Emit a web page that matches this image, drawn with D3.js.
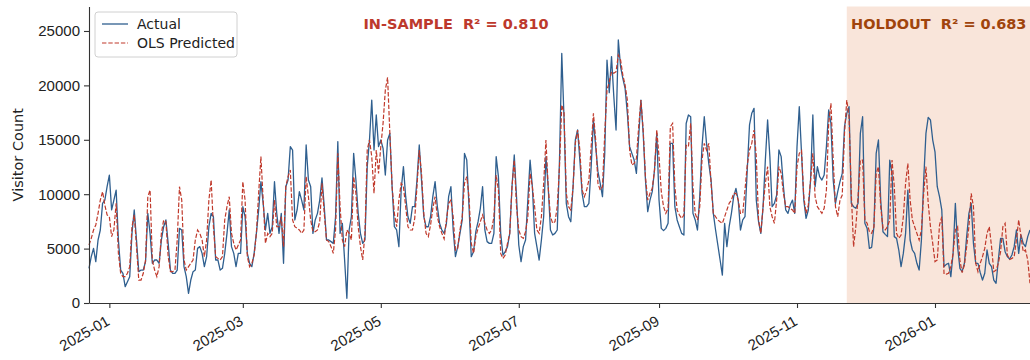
<!DOCTYPE html>
<html>
<head>
<meta charset="utf-8">
<script src="https://cdn.jsdelivr.net/npm/d3@7"></script>
<style>
  body { margin: 0; background: #fff; }
  svg { display: block; font-family: "DejaVu Sans", sans-serif; }
</style>
</head>
<body>
<div id="chart"></div>
<script>
// daily series, first value is startDate, one value per day
const startDate = '2024-12-23';
const holdoutStart = '2025-11-23';

const actual = [
  3190, 4260, 5020, 3800, 5790, 6710, 9160,
  9460, 10690, 11760, 8550, 9460, 10380, 5790,
  3030, 2730, 1500, 1960, 2420, 6400, 8550,
  5790, 2880, 3030, 3030, 3800, 8240, 6400,
  3650, 3950, 3950, 3650, 5790, 7010, 7630,
  5480, 3030, 2730, 2730, 3030, 6860, 6710,
  3340, 2420, 890, 2110, 2880, 3030, 5020,
  5180, 4560, 3340, 4260, 7010, 8240, 7930,
  3950, 3950, 3030, 3190, 4560, 6400, 8550,
  5180, 4560, 3340, 4560, 4560, 8850, 7930,
  4560, 3650, 3340, 4560, 6400, 8550, 11150,
  9160, 6710, 8240, 6400, 7010, 11150, 8240,
  6400, 8240, 3650, 10690, 11300, 14370, 14060,
  7630, 8550, 10230, 9460, 8550, 14520, 11300,
  10690, 6400, 7630, 8240, 9460, 11500, 8850,
  5790, 5790, 5640, 5480, 7930, 14830, 6400,
  7320, 3950, 430, 6710, 7930, 13750, 11300,
  8240, 6400, 5480, 5790, 12530, 14980, 18650,
  14060, 17280, 14370, 14980, 14210, 11760, 14980,
  15590, 10690, 7010, 6710, 5180, 10380, 12530,
  9770, 7930, 7320, 8850, 8850, 11300, 14520,
  11300, 7930, 7010, 7010, 7930, 9770, 11150,
  8850, 7320, 6710, 6400, 7300, 9800, 10690,
  6710, 4260, 5180, 6400, 7630, 13750, 13140,
  8850, 4260, 4720, 6550, 7470, 8700, 10690,
  6710, 5640, 5480, 5480, 6400, 13450, 11610,
  6400, 4410, 4720, 5180, 6400, 10690, 13600,
  9770, 5330, 3800, 5180, 5790, 9460, 13140,
  10690, 6400, 5180, 3950, 5790, 7930, 13450,
  10690, 6710, 6250, 6400, 6710, 13140, 22940,
  17000, 9160, 7930, 7470, 10690, 14980, 15900,
  13140, 10080, 8850, 8850, 9160, 12530, 16820,
  14370, 12070, 11000, 9770, 13750, 22330, 19330,
  22640, 19030, 15900, 24170, 21720, 20650, 19720,
  17430, 14370, 13750, 13140, 11910, 15280, 18650,
  15590, 11300, 8390, 9460, 10230, 12220, 15590,
  9460, 6860, 6650, 6860, 7320, 14670, 14670,
  8850, 7630, 7010, 6400, 6250, 16500, 17280,
  17120, 8240, 7630, 6710, 9770, 14370, 17120,
  14670, 12830, 11300, 8240, 6710, 5330, 3950,
  2570, 7320, 5180, 7010, 8240, 9770, 10540,
  9460, 6710, 7630, 7930, 12220, 16360, 17430,
  17890, 9460, 7470, 6400, 8850, 13140, 16820,
  13450, 8850, 9160, 9920, 14060, 13450, 10690,
  8550, 8240, 9000, 9460, 8240, 14370, 18040,
  13750, 9460, 7780, 8550, 11300, 17280, 10690,
  12530, 11610, 11300, 11760, 14370, 17740, 16510,
  11300, 9160, 10230, 11150, 11910, 16200, 17430,
  18040, 9160, 8850, 8700, 9160, 15590, 17120,
  7320, 6860, 5020, 5120, 7010, 13750, 14980,
  9460, 6550, 6310, 6100, 13140, 11910, 6100,
  5940, 4870, 3340, 4560, 6400, 10380, 5790,
  4870, 4560, 3650, 3030, 5790, 11300, 15590,
  17060, 16820, 14980, 13900, 10690, 9770, 8550,
  3340, 3550, 3650, 2420, 4560, 9160, 5180,
  3190, 2880, 3650, 6100, 8240, 9160, 5480,
  3650, 3650, 2790, 2110, 2730, 4870, 3650,
  3340, 2110, 1810, 3950, 5940, 5940, 4720,
  4260, 4040, 4410, 5180, 6710, 4560, 6250,
  5480, 5180, 6100, 6710
];

const predicted = [
  5330, 5940, 6710, 7170, 8240, 9460, 10230,
  9000, 8090, 7930, 6100, 6710, 9160, 4560,
  2730, 2420, 2420, 2730, 3340, 7010, 8090,
  5180, 2110, 2110, 2730, 3950, 9770, 10380,
  3950, 3030, 2420, 3340, 6400, 7630, 7470,
  4260, 2880, 2880, 3030, 5790, 10690, 9460,
  3950, 3030, 3340, 3650, 3950, 5790, 6710,
  6400, 5790, 4260, 5790, 9460, 11300, 7010,
  4260, 4100, 3950, 4260, 7630, 8850, 9770,
  6400, 5480, 4870, 5330, 5790, 11150, 9460,
  4260, 3340, 3650, 4410, 6400, 10080, 13450,
  9460, 5480, 6400, 6100, 6400, 9460, 7010,
  7010, 7930, 5180, 10690, 11610, 12220, 7630,
  7010, 6860, 6710, 6400, 6710, 11610, 9770,
  7630, 6550, 6550, 6710, 7470, 11000, 8240,
  5790, 5640, 5180, 4560, 6710, 13750, 8850,
  5790, 5180, 6710, 6400, 5790, 11610, 10080,
  7010, 5180, 3950, 6400, 14060, 14980, 13450,
  10080, 14060, 11910, 14370, 16510, 19570, 20740,
  15590, 10690, 8240, 7010, 9460, 11000, 10690,
  8850, 7010, 6710, 6710, 7780, 10690, 14060,
  11910, 8240, 6400, 6100, 7170, 8700, 9770,
  7930, 7010, 6400, 5900, 7600, 9160, 9460,
  7930, 4870, 5020, 6710, 7930, 11000, 11610,
  9770, 5480, 4560, 6100, 6860, 7470, 8090,
  7320, 6710, 6400, 6710, 7930, 11760, 10380,
  4560, 4100, 4410, 5480, 6400, 10690, 13140,
  8850, 6710, 6100, 5940, 6550, 7930, 11910,
  10690, 8850, 6710, 6400, 7930, 11000, 14980,
  10690, 7930, 7320, 7470, 8850, 12530, 18200,
  17500, 10080, 8850, 8550, 10690, 14670, 15900,
  14060, 10380, 9770, 10380, 11300, 14370, 17430,
  14980, 11000, 10380, 10690, 15590, 19570, 20340,
  21260, 21110, 21260, 22790, 22330, 20950, 20030,
  18650, 14060, 12680, 12830, 13290, 16200, 18650,
  15900, 11610, 9460, 10080, 10540, 12220, 15900,
  13450, 10230, 8850, 8240, 8700, 16200, 16510,
  10690, 8550, 8090, 7780, 8090, 14500, 14370,
  16510, 10690, 8240, 7630, 8850, 13140, 14670,
  14060, 14670, 11000, 8240, 7930, 7630, 7470,
  7320, 7930, 8550, 9160, 9460, 10080, 10080,
  9460, 8240, 8240, 10380, 12680, 14060, 14670,
  15900, 13450, 7630, 6400, 8850, 11000, 12530,
  8850, 7930, 7320, 9460, 12530, 11910, 10080,
  8850, 8850, 8700, 8550, 8240, 12530, 13750,
  14000, 9770, 8240, 9000, 11300, 13750, 9770,
  8850, 8550, 8240, 8700, 10380, 16510, 18350,
  13140, 8850, 7930, 9460, 9920, 15590, 18650,
  17120, 10080, 5180, 7010, 9770, 13140, 13140,
  7630, 7320, 6550, 6400, 7010, 11910, 12530,
  8850, 6860, 6710, 7010, 7630, 13140, 10690,
  6400, 5940, 6250, 7930, 11000, 12830, 9460,
  7630, 7010, 6400, 5790, 6710, 10080, 12530,
  9160, 7010, 5480, 3800, 3950, 7170, 7930,
  2660, 2660, 2730, 3340, 4560, 6710, 7010,
  3950, 2790, 3490, 5180, 7010, 10080, 8850,
  3650, 2880, 3650, 4260, 5020, 6400, 7010,
  5180, 2880, 3030, 3650, 4720, 7010, 7320,
  4410, 4000, 4100, 4260, 5790, 7630, 6100,
  4720, 4870, 3950, 1810
];

const yTicks = [0, 5000, 10000, 15000, 20000, 25000];
const xTicks = ['2025-01-01', '2025-03-01', '2025-05-01', '2025-07-01', '2025-09-01', '2025-11-01', '2026-01-01'];
const seriesNames = ['Actual', 'OLS Predicted'];
const yLabel = 'Visitor Count';
const inSampleText = 'IN-SAMPLE  R\u00b2 = 0.810';
const holdoutText = 'HOLDOUT  R\u00b2 = 0.683';

const W = 1030, H = 360;
const plotLeft = 89, plotRight = 1030, plotTop = 6.5, plotBottom = 303;
const blue = '#2f5f8f', red = '#c0392b';

const parse = d3.utcParse('%Y-%m-%d');
const t0 = parse(startDate);
const rows = actual.map((v, i) => ({ date: d3.utcDay.offset(t0, i), a: v, p: predicted[i] }));

const svg = d3.select('#chart').append('svg')
  .attr('width', W)
  .attr('height', H);

const x = d3.scaleUtc()
  .domain([rows[0].date, rows[rows.length - 1].date])
  .range([plotLeft, plotRight]);
const y = d3.scaleLinear().domain([0, 27250]).range([plotBottom, plotTop]);

// holdout band
const hx = x(parse(holdoutStart));
svg.append('rect')
  .attr('x', hx)
  .attr('y', plotTop)
  .attr('width', plotRight - hx)
  .attr('height', plotBottom - plotTop)
  .attr('fill', '#f9e5da');

const line = key => d3.line()
  .x(d => x(d.date))
  .y(d => y(d[key]));

svg.append('path')
  .datum(rows)
  .attr('fill', 'none')
  .attr('stroke', blue)
  .attr('stroke-width', 1.3)
  .attr('stroke-linejoin', 'round')
  .attr('d', line('a'));

svg.append('path')
  .datum(rows)
  .attr('fill', 'none')
  .attr('stroke', red)
  .attr('stroke-width', 1.2)
  .attr('stroke-dasharray', '4.4,1.9')
  .attr('d', line('p'));

// axes
const yAxis = svg.append('g')
  .attr('transform', `translate(${plotLeft},0)`)
  .call(d3.axisLeft(y).tickValues(yTicks).tickFormat(d3.format('d')).tickSize(5).tickSizeOuter(0).tickPadding(4));

const xAxis = svg.append('g')
  .attr('transform', `translate(0,${plotBottom})`)
  .call(d3.axisBottom(x).tickValues(xTicks.map(parse)).tickFormat(d3.utcFormat('%Y-%m')).tickSize(5).tickSizeOuter(0));

[yAxis, xAxis].forEach(g => {
  g.selectAll('path, line').attr('stroke', '#333').attr('stroke-width', 1.1);
  g.selectAll('text').attr('fill', '#222').style('font-size', '15px');
});

// rotated date labels, right end tucked under the tick
xAxis.selectAll('text')
  .attr('x', 0).attr('y', 0).attr('dy', 0)
  .attr('text-anchor', 'end')
  .attr('transform', 'translate(1,21) rotate(-30)');

svg.append('text')
  .attr('transform', `translate(23,${(plotTop + plotBottom) / 2}) rotate(-90)`)
  .attr('text-anchor', 'middle')
  .style('font-size', '14.5px')
  .attr('fill', '#222')
  .text(yLabel);

// annotations
svg.append('text')
  .attr('x', 456).attr('y', 29)
  .attr('text-anchor', 'middle')
  .style('white-space', 'pre')
  .style('font-size', '14.5px')
  .style('font-weight', 'bold')
  .attr('fill', '#bd392c')
  .text(inSampleText);

svg.append('text')
  .attr('x', 851).attr('y', 29)
  .style('white-space', 'pre')
  .style('font-size', '14.5px')
  .style('font-weight', 'bold')
  .attr('fill', '#a0440c')
  .text(holdoutText);

// legend
const lg = svg.append('g').attr('transform', 'translate(95,12)');
lg.append('rect')
  .attr('width', 142).attr('height', 45).attr('rx', 3)
  .attr('fill', '#fff').attr('fill-opacity', 0.8)
  .attr('stroke', '#d0d0d0');
seriesNames.forEach((name, i) => {
  const yy = 12 + i * 19;
  lg.append('line')
    .attr('x1', 7).attr('x2', 33).attr('y1', yy).attr('y2', yy)
    .attr('stroke', i ? red : blue)
    .attr('stroke-width', i ? 1.2 : 1.3)
    .attr('stroke-dasharray', i ? '4.4,1.9' : null);
  lg.append('text')
    .attr('x', 42).attr('y', yy).attr('dy', '0.35em')
    .style('font-size', '14px')
    .attr('fill', '#222')
    .text(name);
});
</script>
</body>
</html>
